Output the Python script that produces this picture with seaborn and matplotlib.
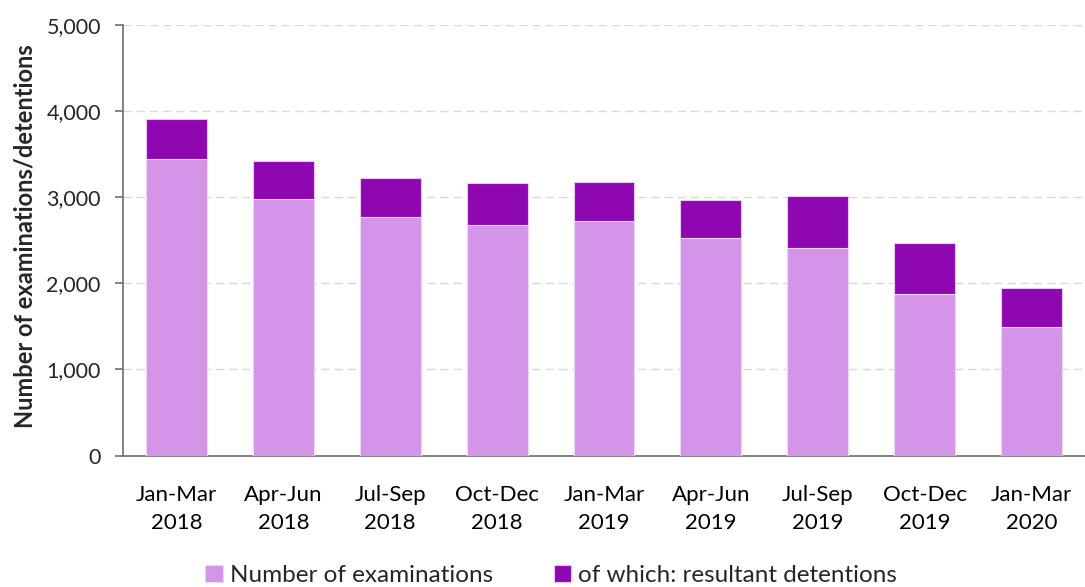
import numpy as np
import pandas as pd
import seaborn as sns
import matplotlib.pyplot as plt

periods = ["Jan-Mar\n2018", "Apr-Jun\n2018", "Jul-Sep\n2018", "Oct-Dec\n2018",
           "Jan-Mar\n2019", "Apr-Jun\n2019", "Jul-Sep\n2019", "Oct-Dec\n2019",
           "Jan-Mar\n2020"]
examinations = [3904, 3418, 3217, 3159, 3180, 2965, 3008, 2462, 1947]
detentions = [461, 445, 449, 478, 456, 441, 597, 585, 460]

df = pd.DataFrame({"period": periods,
                   "examinations": examinations,
                   "detentions": detentions})
df["not_detained"] = df["examinations"] - df["detentions"]

sns.set_style("white")
plt.rcParams["font.family"] = ["Lato", "DejaVu Sans"]

light = "#D495E8"
dark = "#8F07B0"

fig = plt.figure(figsize=(10.85, 5.87), dpi=100)
ax = fig.add_axes([0.1134, 0.224, 0.8866, 0.7336])

# full bar (detentions colour) then the non-detained part on top of it
sns.barplot(data=df, x="period", y="examinations", color=dark, width=0.57,
            saturation=1, edgecolor="#E9C8F3", linewidth=0.8,
            label="of which: resultant detentions", ax=ax, zorder=3)
sns.barplot(data=df, x="period", y="not_detained", color=light, width=0.57,
            saturation=1, edgecolor="#EFD6F7", linewidth=0.8,
            label="Number of examinations", ax=ax, zorder=3)
if ax.get_legend() is not None:
    ax.get_legend().remove()

ax.set_ylim(0, 5000)
ax.set_xlim(-0.5, 8.42)
ax.set_yticks(np.arange(0, 5001, 1000))
ax.set_yticklabels([f"{v:,}" for v in range(0, 5001, 1000)])
ax.yaxis.grid(True, color="#D9D9D9", linestyle=(0, (6, 3.5)), linewidth=1, zorder=0)

ax.set_xlabel("")
ax.set_ylabel("Number of examinations/detentions", fontsize=17, fontweight="bold")
ax.yaxis.set_label_coords(-0.09, 0.51)

for s in ["top", "right"]:
    ax.spines[s].set_visible(False)
for s in ["left", "bottom"]:
    ax.spines[s].set_color("#6E6E6E")
    ax.spines[s].set_linewidth(1.2)

ax.tick_params(axis="x", which="major", length=0, labelsize=16, pad=21, colors="black")
for t in ax.get_xticklabels():
    t.set_linespacing(1.5)
ax.set_xticks(np.arange(-0.5, 9, 1), minor=True)
ax.tick_params(axis="x", which="minor", length=6, width=1.2, color="#6E6E6E", direction="out")
ax.tick_params(axis="y", length=6, width=1.2, color="#6E6E6E", labelsize=15.5, pad=10,
               direction="out", left=True)

handles, labels = ax.get_legend_handles_labels()
order = [labels.index("Number of examinations"), labels.index("of which: resultant detentions")]
fig.legend([handles[i] for i in order], [labels[i] for i in order],
           loc="lower center", bbox_to_anchor=(0.508, -0.035), ncol=2, frameon=False,
           fontsize=17.5, handlelength=0.7, handleheight=0.7, handletextpad=0.3,
           columnspacing=2.5)

fig.savefig("out.png", dpi=100)
